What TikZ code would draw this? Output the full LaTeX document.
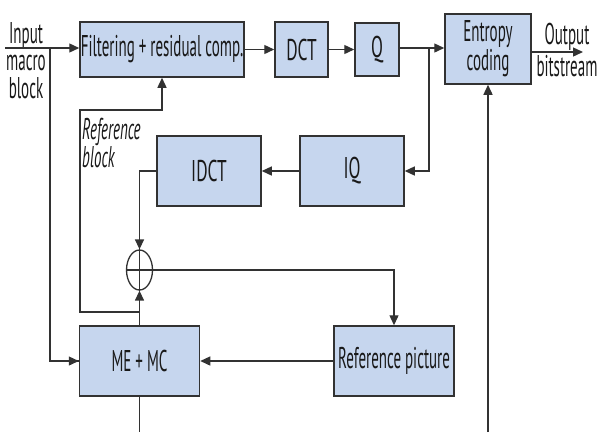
\documentclass[tikz,border=0pt]{standalone}
\usepackage{fontspec}
\setmainfont[FakeStretch=0.5]{PT Sans}
\usetikzlibrary{arrows.meta,shapes.geometric}
\definecolor{boxfill}{RGB}{198,214,238}
\definecolor{edge}{RGB}{50,50,50}
\begin{document}
\begin{tikzpicture}[x=1pt,y=-1pt,
  block/.style={draw=edge, line width=1.5pt, fill=boxfill, inner sep=0pt,
                font=\fontsize{30}{29}\selectfont, align=center, text=black!90},
  conn/.style={draw=edge, line width=1.35pt},
  arr/.style={conn, -{Triangle[length=10pt,width=9pt]}},
  lbl/.style={font=\fontsize{30}{27.5}\selectfont, inner sep=0pt, text=black!90}]
\useasboundingbox (0,0) rectangle (599,432);

% processing blocks
\node[block, minimum width=164pt, minimum height=55pt] (filt) at (162,49.5) {Filtering + residual comp.};
\node[block, minimum width=53pt,  minimum height=55pt] (dct)  at (301.5,49.5) {\addfontfeature{FakeStretch=0.58}DCT};
\node[block, minimum width=44pt,  minimum height=53pt] (q)    at (377,49.5) {\addfontfeature{FakeStretch=0.58}Q};
\node[block, minimum width=86pt,  minimum height=70pt] (ent)  at (488,49) {Entropy\\coding};
\node[block, minimum width=104pt, minimum height=70pt] (idct) at (209,171) {\addfontfeature{FakeStretch=0.58}IDCT};
\node[block, minimum width=104pt, minimum height=70pt] (iq)   at (352,171) {\addfontfeature{FakeStretch=0.58}IQ};
\node[block, minimum width=120pt, minimum height=70pt] (mc)   at (139.5,361) {ME + MC};
\node[block, minimum width=120pt, minimum height=70pt] (refp) at (394,361) {Reference picture};

% adder
\node[draw=edge, ellipse, line width=1.3pt, minimum width=26pt, minimum height=40pt, inner sep=0pt] (sum) at (139.5,270) {};
\draw[conn] (sum.north) -- (sum.south) (sum.west) -- (sum.east);

% labels
\node[lbl, align=center] (inlbl) at (26,60.5) {Input\\macro\\block};
\node[lbl, align=center] (outlbl) at (567,50) {Output\\[4pt]bitstream};
\node[lbl, align=left, anchor=north west, font=\fontsize{30}{28}\selectfont\itshape] (reflbl) at (82,118) {Reference\\block};

% free ends
\coordinate (in) at (5,48);
\coordinate (jin) at (50,48);
\coordinate (out) at (583,52);
\coordinate (jq) at (429,48);
\coordinate (jmc) at (139.5,312);
\coordinate (bmc) at (139.5,432);
\coordinate (bent) at (488,432);

% forward path
\draw[arr] (in) -- (filt.west |- in);
\draw[conn] (jin) |- (mc.west);
\draw[arr] (jin |- mc.west) -- (mc.west);
\draw[arr] (filt) -- (dct);
\draw[arr] (dct) -- (q);
\draw[arr] (q.east |- jq) -- (ent.west |- jq);
\draw[arr] (ent.east |- out) -- (out);

% reconstruction loop
\draw[arr] (jq) |- (iq.east);
\draw[arr] (iq) -- (idct);
\draw[arr] (idct.west) -| (sum.north);
\draw[arr] (mc.north) -- (sum.south);
\draw[arr] (sum.east) -| (refp.north);
\draw[arr] (refp) -- (mc);
\draw[arr] (jmc) -| (80,110) -| (filt.south);
\draw[conn] (mc.south) -- (mc.south |- bmc);
\draw[arr] (bent) -- (bent |- ent.south);
\end{tikzpicture}
\end{document}
